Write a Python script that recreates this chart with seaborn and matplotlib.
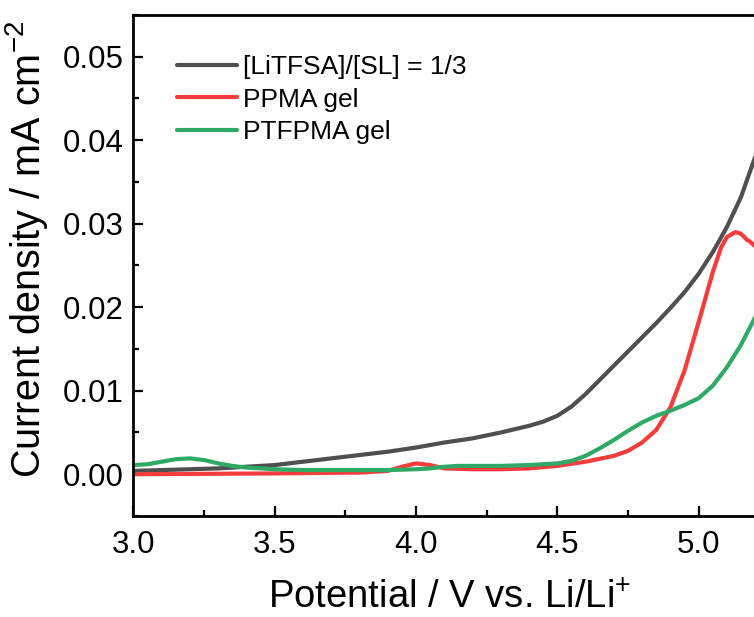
import numpy as np
import pandas as pd
import matplotlib
matplotlib.use("Agg")
import matplotlib.pyplot as plt
from matplotlib.ticker import MultipleLocator, FormatStrFormatter
import seaborn as sns

# ---- data ----
litfsa_x = [3.0, 3.1, 3.2, 3.3, 3.4, 3.5, 3.6, 3.7, 3.8, 3.9, 4.0, 4.1, 4.2, 4.3, 4.4,
            4.45, 4.5, 4.55, 4.6, 4.65, 4.7, 4.75, 4.8, 4.85, 4.9, 4.95, 5.0, 5.05, 5.1,
            5.15, 5.2]
litfsa_y = [0.0004, 0.0005, 0.0006, 0.0007, 0.0009, 0.0011, 0.0015, 0.0019, 0.0023, 0.0027,
            0.0032, 0.0038, 0.0043, 0.0050, 0.0058, 0.0063, 0.0070, 0.0081, 0.0096, 0.0113,
            0.0130, 0.0147, 0.0164, 0.0181, 0.0199, 0.0218, 0.0240, 0.0266, 0.0296, 0.0332,
            0.0380]

ppma_x = [3.0, 3.5, 3.8, 3.9, 3.95, 4.0, 4.05, 4.1, 4.2, 4.3, 4.4, 4.5, 4.6, 4.7, 4.75,
          4.8, 4.85, 4.9, 4.95, 5.0, 5.05, 5.08, 5.1, 5.13, 5.15, 5.17, 5.18, 5.2]
ppma_y = [0.0000, 0.0001, 0.0002, 0.0004, 0.0009, 0.0013, 0.0011, 0.0007, 0.0006, 0.0006,
          0.0007, 0.0010, 0.0015, 0.0022, 0.0028, 0.0038, 0.0053, 0.0080, 0.0124, 0.0182,
          0.0242, 0.0272, 0.0284, 0.0290, 0.0288, 0.0281, 0.0279, 0.0273]

ptfpma_x = [3.0, 3.05, 3.1, 3.15, 3.2, 3.25, 3.3, 3.35, 3.4, 3.5, 3.6, 3.7, 3.8, 3.9, 4.0,
            4.05, 4.1, 4.15, 4.2, 4.3, 4.4, 4.5, 4.55, 4.6, 4.65, 4.7, 4.75, 4.8, 4.85,
            4.9, 4.95, 5.0, 5.05, 5.1, 5.15, 5.2]
ptfpma_y = [0.0011, 0.0012, 0.0015, 0.0018, 0.0019, 0.0017, 0.0013, 0.0010, 0.0008, 0.0006,
            0.0005, 0.0005, 0.0005, 0.0005, 0.0006, 0.0007, 0.0009, 0.0010, 0.0010, 0.0010,
            0.0011, 0.0013, 0.0016, 0.0022, 0.0031, 0.0041, 0.0052, 0.0062, 0.0070,
            0.0076, 0.0083, 0.0091, 0.0106, 0.0128, 0.0155, 0.0188]

series_names = ["[LiTFSA]/[SL] = 1/3", "PPMA gel", "PTFPMA gel"]
series_colors = ["#4f4f4f", "#f43c3c", "#2eaa66"]

x_ticks = [3.0, 3.5, 4.0, 4.5, 5.0]
y_ticks = [0.00, 0.01, 0.02, 0.03, 0.04, 0.05]

df = pd.concat([
    pd.DataFrame({"x": litfsa_x, "y": litfsa_y, "s": series_names[0]}),
    pd.DataFrame({"x": ppma_x, "y": ppma_y, "s": series_names[1]}),
    pd.DataFrame({"x": ptfpma_x, "y": ptfpma_y, "s": series_names[2]}),
], ignore_index=True)

# ---- style ----
sns.set_style("ticks")
plt.rcParams["font.family"] = ["Liberation Sans", "DejaVu Sans"]
plt.rcParams["mathtext.default"] = "regular"
plt.rcParams["mathtext.fontset"] = "custom"
plt.rcParams["mathtext.rm"] = "Liberation Sans"
plt.rcParams["text.color"] = "black"
plt.rcParams["axes.labelcolor"] = "black"
plt.rcParams["xtick.color"] = "black"
plt.rcParams["ytick.color"] = "black"

fig = plt.figure(figsize=(7.54, 6.17), dpi=100)
ax = fig.add_axes([0.177, 0.1637, 0.823, 0.812])

sns.lineplot(data=df, x="x", y="y", hue="s", hue_order=series_names,
             palette=series_colors, linewidth=3.0, ax=ax, sort=True,
             estimator=None)
for ln in ax.get_lines():
    ln.set_solid_joinstyle("round")
    ln.set_solid_capstyle("round")

ax.set_xlim(3.0, 5.196)
ax.set_ylim(-0.005, 0.055)
ax.set_xticks(x_ticks)
ax.set_yticks(y_ticks)
ax.xaxis.set_minor_locator(MultipleLocator(0.25))
ax.yaxis.set_minor_locator(MultipleLocator(0.005))
ax.xaxis.set_major_formatter(FormatStrFormatter("%.1f"))
ax.yaxis.set_major_formatter(FormatStrFormatter("%.2f"))

for side in ["left", "bottom", "top"]:
    ax.spines[side].set_visible(True)
    ax.spines[side].set_linewidth(2.0)
    ax.spines[side].set_color("black")
ax.spines["right"].set_visible(False)

ax.tick_params(axis="both", which="major", direction="in", length=7.5, width=1.6,
               labelsize=22.5, color="black", labelcolor="black")
ax.tick_params(axis="both", which="minor", direction="in", length=4, width=1.6,
               color="black")
ax.tick_params(axis="x", which="both", pad=10, top=False)
ax.tick_params(axis="y", which="both", pad=7, right=False)

ax.set_xlabel("Potential / V vs. Li/Li$^{+}$", fontsize=27.5, color="black")
ax.set_ylabel("Current density / mA cm$^{-2}$", fontsize=28.5, color="black")
ax.xaxis.set_label_coords(0.51, -0.128)
ax.yaxis.set_label_coords(-0.134, 0.532)

leg = ax.legend(loc="upper left", bbox_to_anchor=(0.07, 0.92), frameon=False,
                fontsize=19, handlelength=2.27, handletextpad=0.23,
                labelspacing=0.32, borderpad=0, borderaxespad=0)
for t in leg.get_texts():
    t.set_color("black")
for h in leg.get_lines():
    h.set_linewidth(3.0)
    h.set_solid_capstyle("round")

fig.savefig("out.png", dpi=100)
